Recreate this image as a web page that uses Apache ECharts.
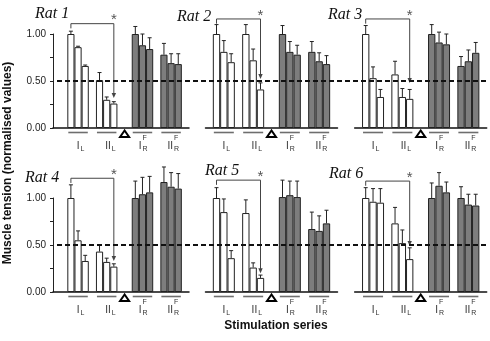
<!DOCTYPE html>
<html><head><meta charset="utf-8">
<script src="https://cdn.jsdelivr.net/npm/echarts@6/dist/echarts.min.js"></script>
<style>html,body{margin:0;padding:0;background:#fff}#c{width:490px;height:341px}</style>
</head><body><div id="c"></div>
<script>
// ---------- data ----------
const ratNames = ['Rat 1','Rat 2','Rat 3','Rat 4','Rat 5','Rat 6'];
const groupNames = [['I','L',''],['II','L',''],['I','R','F'],['II','R','F']];
// mean normalised tension, three bars per stimulation series, one row per rat
const IL_mean   = [[1.00,0.86,0.66],[1.00,0.81,0.70],[1.00,0.53,0.33],[1.00,0.55,0.33],[1.00,0.85,0.36],[1.00,0.96,0.95]];
const IL_err    = [[0.03,0.01,0.01],[0.10,0.12,0.09],[0.09,0.12,0.08],[0.14,0.10,0.06],[0.11,0.14,0.08],[0.11,0.14,0.15]];
const IIL_mean  = [[0.51,0.30,0.26],[1.00,0.72,0.41],[0.57,0.33,0.31],[0.43,0.32,0.27],[0.84,0.26,0.15],[0.73,0.52,0.35]];
const IIL_err   = [[0.08,0.03,0.02],[0.10,0.12,0.07],[0.14,0.09,0.10],[0.07,0.04,0.03],[0.14,0.05,0.03],[0.17,0.14,0.12]];
const IRF_mean  = [[1.00,0.88,0.84],[1.00,0.81,0.78],[1.00,0.91,0.89],[1.00,1.04,1.06],[1.01,1.03,1.01],[1.00,1.13,1.06]];
const IRF_err   = [[0.08,0.12,0.12],[0.09,0.11,0.10],[0.10,0.11,0.11],[0.18,0.18,0.17],[0.18,0.15,0.17],[0.16,0.14,0.11]];
const IIRF_mean = [[0.78,0.69,0.68],[0.81,0.71,0.68],[0.66,0.71,0.80],[1.17,1.12,1.10],[0.67,0.65,0.73],[1.00,0.93,0.92]];
const IIRF_err  = [[0.12,0.10,0.11],[0.11,0.09,0.09],[0.10,0.12,0.11],[0.16,0.15,0.16],[0.18,0.16,0.14],[0.12,0.11,0.12]];
const bracketTop = [1.11,1.16,1.16,1.21,1.19,1.18];
const arrowTip   = [0.32,0.52,0.48,0.33,0.20,0.49];
const refLevel = 0.5;
const yTickValues = [0, 0.5, 1];
const yTickLabels = ['0.00','0.50','1.00'];
const xTitle = 'Stimulation series';
const yTitle = 'Muscle tension (normalised values)';

// ---------- layout ----------
const ROW_TOP = [34, 198], ROW_H = 94;
const COLS = [
  {left:53,    width:136, lead:2, n:19},
  {left:205.5, width:132, lead:1, n:18},
  {left:354.7, width:132, lead:1, n:18}
];
const GROUP_START = [0, 4, 9, 13];
const TRI_GAP = [7, 8];
const LABEL_SHIFT = [1.5, 4, -1, 2];
const TITLE_POS = [[35,6],[177,9],[328,7],[25,170],[205,163],[329,166]];
const FONT = 'Liberation Sans';

const groupsMean = [IL_mean, IIL_mean, IRF_mean, IIRF_mean];
const groupsErr  = [IL_err, IIL_err, IRF_err, IIRF_err];

function renderErr(params, api){
  const x = api.value(0);
  const p0 = api.coord([x, api.value(1)]), p1 = api.coord([x, api.value(2)]);
  return {type:'group', children:[
    {type:'line', shape:{x1:p0[0], y1:p0[1], x2:p1[0], y2:p1[1]}, style:{stroke:'#222', lineWidth:1}},
    {type:'line', shape:{x1:p1[0]-2, y1:p1[1], x2:p1[0]+2, y2:p1[1]}, style:{stroke:'#222', lineWidth:1}}
  ]};
}
function renderLabel(params, api){
  const s = api.value(0), e = api.value(2), g = api.value(3);
  const half = api.size([1, 0])[0] / 2;
  const a = api.coord([s, 0]), b = api.coord([e, 0]);
  const x1 = a[0] - half + 1, x2 = b[0] + half - 1, y = a[1];
  const cx = (x1 + x2) / 2;
  const nm = groupNames[g];
  const mx = cx + LABEL_SHIFT[g];
  const ch = [
    {type:'line', shape:{x1:x1, y1:y+4.5, x2:x2, y2:y+4.5}, style:{stroke:'#6e6e6e', lineWidth:1.6}},
    {type:'text', x:mx, y:y+18.7, style:{text:nm[0], font:'10px '+FONT, fill:'#333', align:'right', verticalAlign:'middle'}},
    {type:'text', x:mx+1, y:y+21, style:{text:nm[1], font:'7px '+FONT, fill:'#333', align:'left', verticalAlign:'middle'}}
  ];
  if (nm[2]) ch.push({type:'text', x:mx+1, y:y+10.5, style:{text:nm[2], font:'7px '+FONT, fill:'#333', align:'left', verticalAlign:'middle'}});
  return {type:'group', children:ch};
}
function renderTri(params, api){
  const a = api.coord([api.value(0), 0]), b = api.coord([api.value(2), 0]);
  const cx = (a[0] + b[0]) / 2, y = a[1];
  return {type:'polygon', shape:{points:[[cx, y+2.5],[cx-4.5, y+9],[cx+4.5, y+9]]},
          style:{fill:'#fff', stroke:'#000', lineWidth:2, lineJoin:'miter'}};
}
function renderBracket(params, api){
  const l = api.value(0), top = api.value(1), r = api.value(2), tip = api.value(3), lb = api.value(4);
  const pl = api.coord([l, top]), plb = api.coord([l, lb]), pr = api.coord([r, top]), pt = api.coord([r, tip]);
  return {type:'group', children:[
    {type:'polyline', shape:{points:[[plb[0], plb[1]],[pl[0], pl[1]],[pr[0], pr[1]],[pr[0], pt[1]-4]]},
     style:{stroke:'#444', lineWidth:1, fill:null}},
    {type:'polygon', shape:{points:[[pt[0]-2.2, pt[1]-5],[pt[0]+2.2, pt[1]-5],[pt[0], pt[1]]]}, style:{fill:'#444'}},
    {type:'text', x:pr[0], y:pr[1]-11, style:{text:'*', font:'15px '+FONT, fill:'#555', align:'center', verticalAlign:'top'}}
  ]};
}
function renderRef(params, api){
  const v = api.value(1);
  const a = api.coord([api.value(0), v]), b = api.coord([api.value(2), v]);
  return {type:'line', shape:{x1:a[0], y1:a[1], x2:b[0], y2:b[1]},
          style:{stroke:'#111', lineWidth:2, lineDash:[5,3]}};
}

const grids = [], xAxes = [], yAxes = [], series = [], titles = [];
for (let p = 0; p < 6; p++){
  const row = Math.floor(p / 3), col = p % 3, C = COLS[col];
  grids.push({left:C.left, top:ROW_TOP[row], width:C.width, height:ROW_H, outerBoundsMode:'none'});
  xAxes.push({gridIndex:p, type:'category', data:Array.from({length:C.n}, (_, i) => 's'+i), boundaryGap:true,
    axisLine:{show:true, lineStyle:{color:'#111', width:1.5}}, axisTick:{show:false}, axisLabel:{show:false}, splitLine:{show:false}});
  yAxes.push({gridIndex:p, type:'value', min:0, max:1, interval:0.25, show: col === 0,
    axisLine:{show:true, lineStyle:{color:'#222', width:1}},
    axisTick:{show:true, length:3, lineStyle:{color:'#222', width:1}},
    axisLabel:{show:true, margin:7, color:'#222', fontSize:10, fontFamily:FONT,
      formatter: v => { const i = yTickValues.indexOf(v); return i >= 0 ? yTickLabels[i] : ''; }},
    splitLine:{show:false}});
  const white = new Array(C.n).fill('-'), grey = new Array(C.n).fill('-'), errData = [], labData = [];
  for (let g = 0; g < 4; g++){
    const s0 = C.lead + GROUP_START[g];
    for (let i = 0; i < 3; i++){
      const v = groupsMean[g][p][i];
      (g < 2 ? white : grey)[s0 + i] = v;
      errData.push([s0 + i, v, v + groupsErr[g][p][i]]);
    }
    labData.push([s0, 0, s0 + 2, g]);
  }
  const barBase = {type:'bar', xAxisIndex:p, yAxisIndex:p, barCategoryGap:'0%', barGap:'-100%', clip:false, animation:false};
  series.push(Object.assign({}, barBase, {data:white, itemStyle:{color:'#fff', borderColor:'#222', borderWidth:1}}));
  series.push(Object.assign({}, barBase, {data:grey, itemStyle:{color:'#7d7d7d', borderColor:'#222', borderWidth:1}}));
  series.push({type:'custom', xAxisIndex:p, yAxisIndex:p, data:errData, renderItem:renderErr, clip:false, z:3});
  series.push({type:'custom', xAxisIndex:p, yAxisIndex:p, data:labData, renderItem:renderLabel, clip:false, z:3});
  series.push({type:'custom', xAxisIndex:p, yAxisIndex:p, data:[[C.lead+TRI_GAP[0], 0, C.lead+TRI_GAP[1]]], renderItem:renderTri, clip:false, z:3});
  series.push({type:'custom', xAxisIndex:p, yAxisIndex:p,
    data:[[C.lead + GROUP_START[0], bracketTop[p], C.lead + GROUP_START[1] + 2, arrowTip[p], bracketTop[p] - 0.05]],
    renderItem:renderBracket, clip:false, z:4});
  titles.push({text:ratNames[p], left:TITLE_POS[p][0], top:TITLE_POS[p][1], padding:0,
    textStyle:{fontFamily:'Liberation Serif', fontStyle:'italic', fontWeight:'normal', fontSize:16, color:'#111'}});
}
// full-width reference-line grids
for (let row = 0; row < 2; row++){
  const gi = grids.length;
  grids.push({left:57, top:ROW_TOP[row], width:432, height:ROW_H, outerBoundsMode:'none'});
  xAxes.push({gridIndex:gi, type:'value', min:0, max:1, show:false});
  yAxes.push({gridIndex:gi, type:'value', min:0, max:1, show:false});
  series.push({type:'custom', xAxisIndex:gi, yAxisIndex:gi, data:[[0, refLevel, 1]], renderItem:renderRef, clip:false, z:5});
}

const chart = echarts.init(document.getElementById('c'), null, {renderer:'canvas'});
chart.setOption({
  animation:false,
  backgroundColor:'#fff',
  textStyle:{fontFamily:FONT},
  title:titles,
  grid:grids, xAxis:xAxes, yAxis:yAxes, series:series,
  graphic:[
    {type:'text', x:8, y:163, rotation:Math.PI/2,
     style:{text:yTitle, font:'bold 12px '+FONT, fill:'#111', align:'center', verticalAlign:'middle'}},
    {type:'text', x:276, y:326,
     style:{text:xTitle, font:'bold 12px '+FONT, fill:'#111', align:'center', verticalAlign:'middle'}}
  ]
});
</script></body></html>
